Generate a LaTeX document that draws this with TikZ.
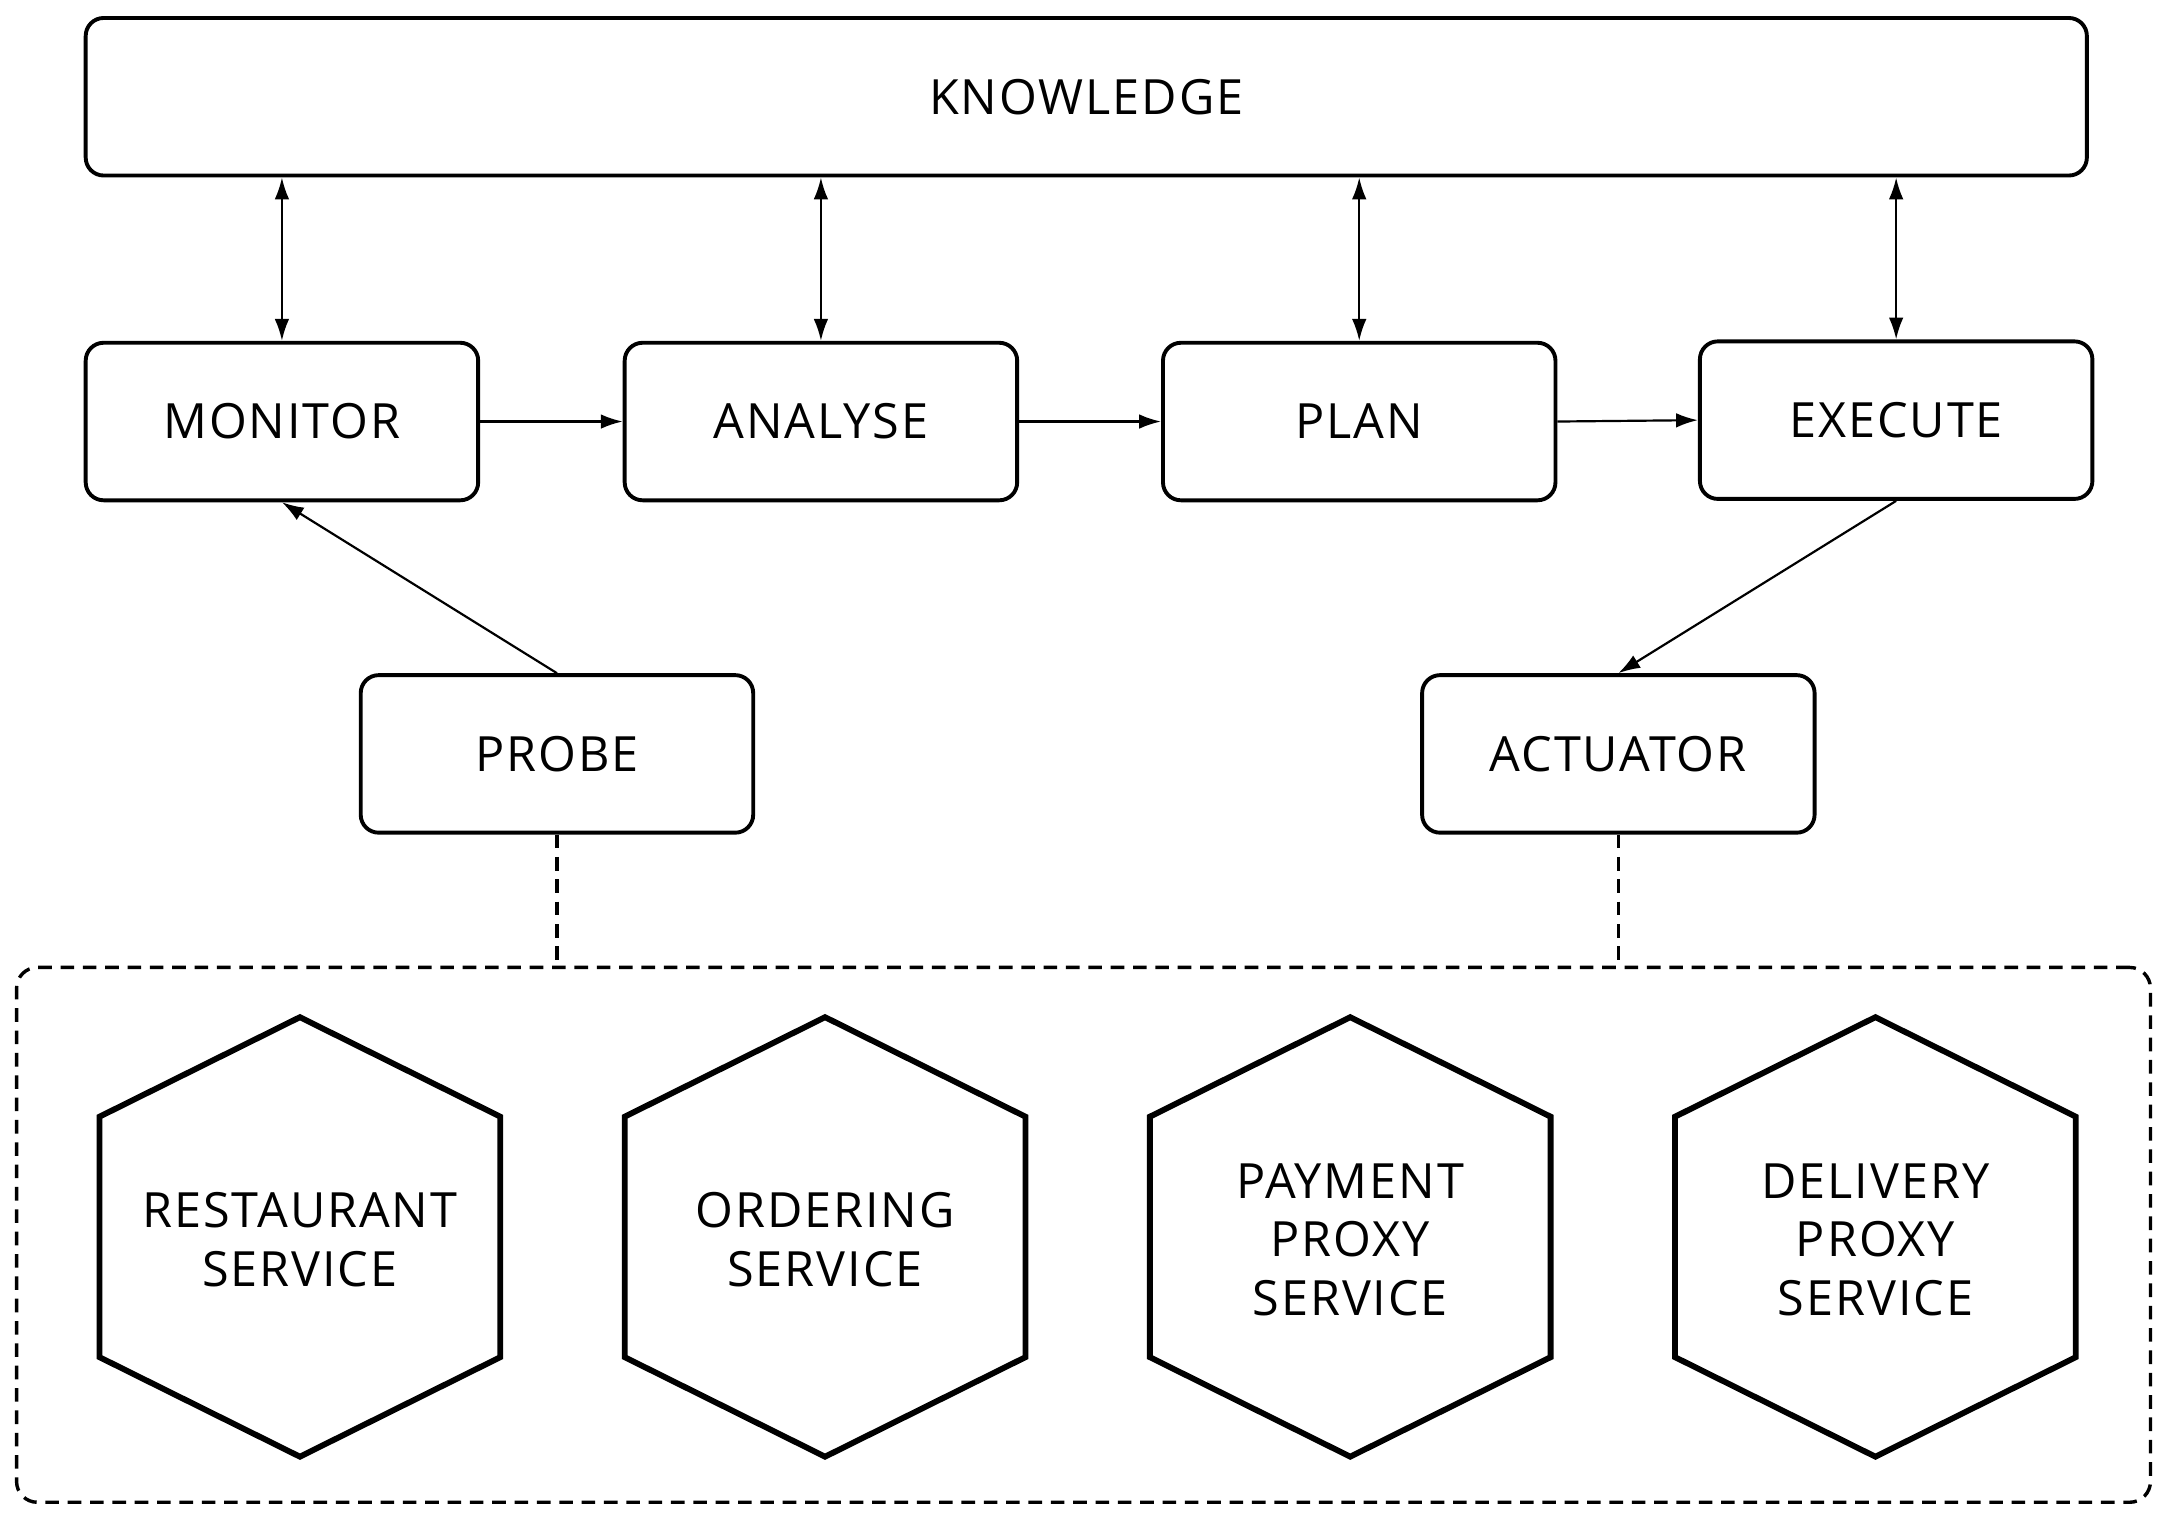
\documentclass[tikz,border=0pt]{standalone}
\usepackage{fontspec}
\setmainfont[LetterSpace=4]{Open Sans}
\usetikzlibrary{arrows.meta}

\begin{document}
\begin{tikzpicture}[
    font=\fontsize{10}{12}\selectfont,
    box/.style={draw,rounded corners=0.13cm,line width=0.8pt,minimum width=2.84cm,minimum height=1.14cm,inner sep=0pt},
    flow/.style={-{Latex[length=4.5pt,width=3pt]},line width=0.45pt},
    both/.style={{Latex[length=4.5pt,width=3pt]}-{Latex[length=4.5pt,width=3pt]},line width=0.45pt},
    link/.style={line width=0.7pt,dash pattern=on 2.8pt off 1.8pt},
    hexa/.style={line width=1.2pt,line join=miter}
  ]
    \useasboundingbox (0,0) rectangle (15.68,-11.02);
    % knowledge and the loop
    \node[box,minimum width=14.48cm] (knowledge) at (7.86,-0.70) {KNOWLEDGE};
    \node[box] (monitor) at (2.04,-3.05) {MONITOR};
    \node[box] (analyse) at (5.94,-3.05) {ANALYSE};
    \node[box] (plan) at (9.835,-3.05) {PLAN};
    \node[box] (execute) at (13.72,-3.04) {EXECUTE};
    \node[box] (probe) at (4.03,-5.455) {PROBE};
    \node[box] (actuator) at (11.71,-5.455) {ACTUATOR};
    \foreach \n in {monitor,analyse,plan,execute}
      \draw[both] (\n.north) -- (\n.north |- knowledge.south);
    \draw[flow] (monitor.east) -- (analyse.west);
    \draw[flow] (analyse.east) -- (plan.west);
    \draw[flow] (plan.east) -- (execute.west);
    \draw[flow] (probe.north) -- (monitor.south);
    \draw[flow] (execute.south) -- (actuator.north);
    % managed system
    \node[draw,link,rounded corners=0.15cm,minimum width=15.44cm,minimum height=3.87cm] (system) at (7.84,-8.935) {};
    \draw[link] (probe.south) -- (probe.south |- system.north);
    \draw[link] (actuator.south) -- (actuator.south |- system.north);
    \foreach \name/\x/\txt in {restaurant/2.17/{RESTAURANT\\SERVICE},
                               ordering/5.97/{ORDERING\\SERVICE},
                               payment/9.77/{PAYMENT\\PROXY\\SERVICE},
                               delivery/13.57/{DELIVERY\\PROXY\\SERVICE}} {
      \draw[hexa] (\x,-7.36) -- ++(1.45,-0.72) -- ++(0,-1.74) -- ++(-1.45,-0.72)
        -- ++(-1.45,0.72) -- ++(0,1.74) -- cycle;
      \node[align=center] (\name) at (\x,-8.97) {\txt};
    }
\end{tikzpicture}
\end{document}
